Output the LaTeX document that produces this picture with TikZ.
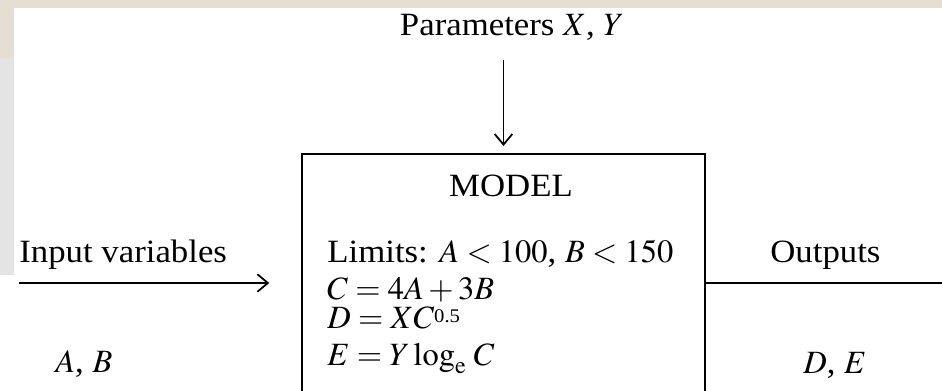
\documentclass[tikz,border=0pt]{standalone}
\usepackage{mathptmx}
\usepackage{fontspec}
\setmainfont[FakeStretch=1.07]{Liberation Serif}
\definecolor{scanBeige}{RGB}{228, 221, 210}
\definecolor{scanGrey}{RGB}{228, 228, 228}
\usetikzlibrary{arrows.meta, positioning}

\begin{document}
\begin{tikzpicture}[x=0.02cm, y=-0.02cm, font=\fontsize{18.5}{22}\selectfont,
  label/.style={inner sep=0pt},
  flow/.style={line width=0.9pt},
  tip/.style={-{Straight Barb[length=6pt, width=10pt, line width=1pt]}}]
  \useasboundingbox (0,0) rectangle (942,391);
  \fill[white] (0,0) rectangle (942,391);
  \fill[scanBeige] (0,0) rectangle (942,8);
  \fill[scanBeige] (0,8) rectangle (14,58);
  \fill[scanGrey] (0,58) rectangle (14,275);
  \begin{scope}
    \clip (0,0) rectangle (942,391);
    \node[draw, line width=1.3pt, minimum width=8.06cm, minimum height=5.2cm, anchor=north] (model) at (503.5,153) {};
  \end{scope}
  \node[label, anchor=base] (title) at (511,197) {MODEL};
  \foreach \n/\yy/\txt in {
    1/263/{Limits: $A<100$, $B<150$},
    2/299/{$C=4A+3B$},
    3/328/{$D=XC$\raisebox{3pt}{\fontsize{11}{12}\selectfont 0.5}},
    4/365/{$E=Y\log_{\mathrm{e}}\,C$}%
  } {
    \node[label, anchor=base west] (eq\n) at (327,\yy) {\txt};
  }
  \node[label, anchor=base] (params) at (512,36) {Parameters $X$, $Y$};
  \node[label, anchor=base west] (inlab) at (19,263) {Input variables};
  \node[label, anchor=base west] (invars) at (55,372) {$A$, $B$};
  \node[label, anchor=base west] (outlab) at (770,263) {Outputs};
  \node[label, anchor=base west] (outvars) at (803,373) {$D$, $E$};
  \coordinate (parTop) at (503.5,60);
  \coordinate (inStart) at (19,283);
  \coordinate (outEnd) at (942,283);
  \draw[flow, tip] (parTop) -- ([yshift=4pt]model.north);
  \draw[flow, tip] (inStart) -- ([xshift=-18pt]model.west |- inStart);
  \draw[flow] (model.east |- outEnd) -- (outEnd);
\end{tikzpicture}
\end{document}
